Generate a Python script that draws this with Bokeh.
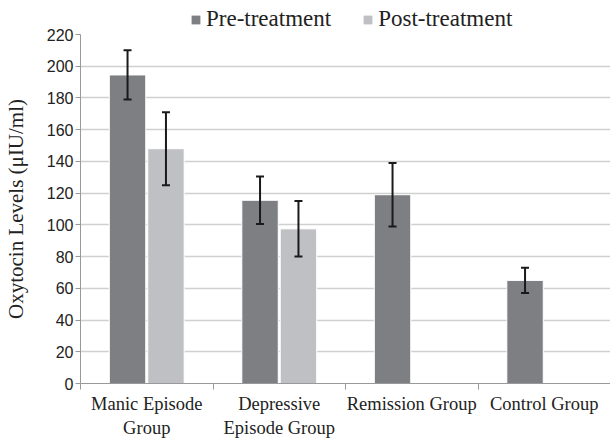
from bokeh.plotting import figure
from bokeh.layouts import column
from bokeh.models import ColumnDataSource, Whisker, Legend, LegendItem, FixedTicker, Range1d
from bokeh.embed import file_html
from bokeh.resources import INLINE

categories = ["Manic Episode\nGroup", "Depressive\nEpisode Group", "Remission Group", "Control Group"]
series = ["Pre-treatment", "Post-treatment"]
pre_values = [194.5, 115.5, 119, 65]
pre_errors = [15.5, 15, 20, 8]
post_values = [148, 97.5, None, None]
post_errors = [23, 17.5, None, None]
y_ticks = [0, 20, 40, 60, 80, 100, 120, 140, 160, 180, 200, 220]

PRE = "#7e7f83"
POST = "#bfc0c4"
OFF = 0.145
W = 0.275
FRAME_W = 530
FRAME_H = 349

centers = [i + 0.5 for i in range(len(categories))]
pre_src = ColumnDataSource(dict(
    x=[c - OFF for c in centers], top=pre_values,
    upper=[v + e for v, e in zip(pre_values, pre_errors)],
    lower=[v - e for v, e in zip(pre_values, pre_errors)]))
post_idx = [i for i, v in enumerate(post_values) if v is not None]
post_src = ColumnDataSource(dict(
    x=[centers[i] + OFF for i in post_idx], top=[post_values[i] for i in post_idx],
    upper=[post_values[i] + post_errors[i] for i in post_idx],
    lower=[post_values[i] - post_errors[i] for i in post_idx]))

# ---- legend strip (its ranges keep the proxy bars out of view) ----
lg = figure(width=600, height=28, output_backend="svg", toolbar_location=None,
            x_axis_location=None, y_axis_location=None,
            x_range=Range1d(-2, -1), y_range=Range1d(-2, -1),
            min_border=0)
lg.outline_line_color = None
lg.xgrid.grid_line_color = None
lg.ygrid.grid_line_color = None
lr_pre = lg.vbar(x="x", top="top", width=W, source=pre_src, fill_color=PRE, line_color=None)
lr_post = lg.vbar(x="x", top="top", width=W, source=post_src, fill_color=POST, line_color=None)
legend = Legend(items=[LegendItem(label=series[0], renderers=[lr_pre]),
                       LegendItem(label=series[1], renderers=[lr_post])],
                orientation="horizontal", location=(110, -4))
legend.label_text_font = "Liberation Serif"
legend.label_text_font_size = "23px"
legend.label_text_color = "#222222"
legend.glyph_width = 11
legend.glyph_height = 11
legend.label_standoff = 5
legend.spacing = 31
legend.padding = 0
legend.margin = 0
legend.border_line_color = None
legend.background_fill_alpha = 0
lg.add_layout(legend)

# ---- main chart ----
p = figure(frame_width=FRAME_W, frame_height=FRAME_H, output_backend="svg", toolbar_location=None,
           x_range=Range1d(0, len(categories)), y_range=Range1d(0, 220),
           min_border_left=0, min_border_right=0, min_border_top=6, min_border_bottom=0)
p.outline_line_color = None
p.background_fill_color = "white"
p.border_fill_color = "white"

p.vbar(x="x", top="top", width=W, source=pre_src, fill_color=PRE, line_color="white", line_width=1)
p.vbar(x="x", top="top", width=W, source=post_src, fill_color=POST, line_color="white", line_width=1)

for src in (pre_src, post_src):
    wk = Whisker(base="x", upper="upper", lower="lower", source=src,
                 line_color="#1a1a1a", line_width=2, level="overlay")
    for h in (wk.upper_head, wk.lower_head):
        h.size = 8
        h.line_width = 2
        h.line_color = "#1a1a1a"
    p.add_layout(wk)

# y axis
p.yaxis.ticker = FixedTicker(ticks=y_ticks)
p.yaxis.axis_label = "Oxytocin Levels (μIU/ml)"
p.yaxis.axis_label_text_font = "Liberation Serif"
p.yaxis.axis_label_text_font_style = "normal"
p.yaxis.axis_label_text_font_size = "21px"
p.yaxis.axis_label_text_color = "#222222"
p.yaxis.axis_label_standoff = 16
p.yaxis.major_label_text_font = "Liberation Sans"
p.yaxis.major_label_text_font_size = "16px"
p.yaxis.major_label_text_color = "#222222"
p.yaxis.major_label_standoff = 2
p.yaxis.axis_line_color = "#999999"
p.yaxis.major_tick_line_color = "#999999"
p.yaxis.major_tick_in = 0
p.yaxis.major_tick_out = 5
p.yaxis.minor_tick_line_color = None

# x axis
p.xaxis.ticker = FixedTicker(ticks=centers, minor_ticks=list(range(len(categories) + 1)))
p.xaxis.major_label_overrides = {c: lab for c, lab in zip(centers, categories)}
p.xaxis.major_label_text_font = "Liberation Serif"
p.xaxis.major_label_text_font_size = "18.5px"
p.xaxis.major_label_text_color = "#222222"
p.xaxis.major_label_standoff = 4
p.xaxis.axis_line_color = "#999999"
p.xaxis.major_tick_line_color = None
p.xaxis.major_tick_in = 0
p.xaxis.major_tick_out = 0
p.xaxis.minor_tick_line_color = "#999999"
p.xaxis.minor_tick_in = 0
p.xaxis.minor_tick_out = 6

p.xgrid.grid_line_color = None
p.ygrid.grid_line_color = "#d0d0d0"
p.ygrid.grid_line_width = 1.5

layout = column(lg, p, spacing=0)
open("out.html", "w").write(file_html(layout, INLINE))
